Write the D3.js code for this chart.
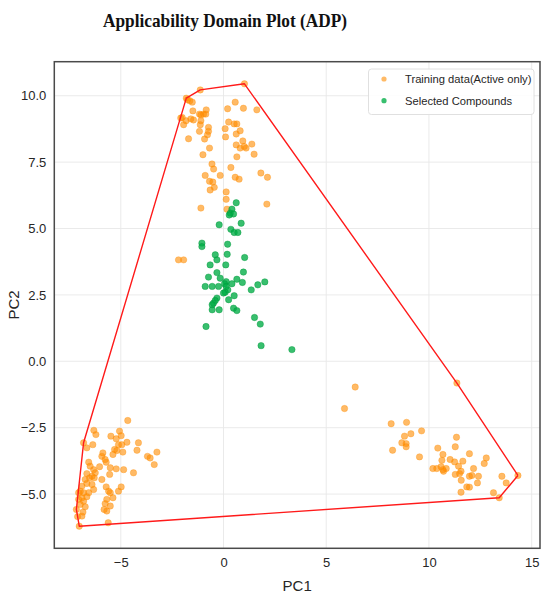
<!DOCTYPE html>
<html>
<head>
<meta charset="utf-8">
<script src="https://cdn.jsdelivr.net/npm/d3@7"></script>
<style>
  html, body { margin: 0; padding: 0; background: #ffffff; }
  svg { display: block; }
</style>
</head>
<body>
<svg id="chart" width="550" height="599"></svg>
<script>
// ---------------- DATA ----------------
const titleText = "Applicability Domain Plot (ADP)";
const xLabel = "PC1";
const yLabel = "PC2";
const seriesNames = ["Training data(Active only)", "Selected Compounds"];
const xTicks = [-5, 0, 5, 10, 15];
const yTicks = [-5, -2.5, 0, 2.5, 5, 7.5, 10];

// Training data (Active only): [PC1, PC2]
const trainingPoints = [
  // top cluster
  [-1.81, 9.91], [-1.13, 10.22], [1.02, 10.45],
  [-1.75, 9.85], [-1.64, 9.81], [-1.52, 9.76], [-1.49, 9.43], [-2.08, 9.16], [-2.01, 9.18],
  [-1.94, 8.91], [-1.82, 9.06], [-1.59, 9.13], [-1.46, 9.09], [-1.17, 9.31], [-1.10, 9.28],
  [-0.97, 9.31], [-0.84, 9.47], [-0.86, 9.31], [-1.10, 9.06], [-1.13, 8.91], [-1.17, 8.66],
  [-0.73, 8.81], [-0.73, 8.66], [-0.78, 8.53], [-0.92, 8.37], [-1.70, 8.38], [-0.68, 8.03],
  [-1.00, 7.78], [0.57, 9.76], [0.20, 9.51], [0.97, 9.53], [1.62, 9.47], [0.25, 9.01],
  [0.52, 8.94], [0.65, 8.94], [0.08, 8.76], [0.81, 8.68], [0.62, 8.56], [0.10, 8.45],
  [0.94, 8.30], [0.62, 8.15], [0.81, 8.03], [1.01, 8.09], [1.10, 8.03], [1.38, 8.18],
  [1.49, 7.80], [0.65, 7.70], [-0.56, 7.43], [-0.48, 7.24], [0.36, 7.30], [-0.89, 7.00],
  [-0.16, 7.00], [0.57, 6.93], [0.76, 6.86], [1.82, 7.09], [2.14, 6.93], [-0.68, 6.78],
  [-0.52, 6.75], [-0.45, 6.55], [-0.65, 6.45], [0.13, 6.38], [2.11, 5.92], [-1.10, 5.77],
  [0.13, 6.10], [0.17, 5.73], [-2.19, 3.82], [-1.94, 3.82],
  // middle / right cluster
  [6.41, -0.97], [5.89, -1.78], [11.36, -0.82],
  [8.16, -2.35], [8.91, -2.30], [9.12, -2.73], [9.64, -2.62], [8.81, -2.82], [8.68, -3.07],
  [8.89, -3.10], [8.89, -3.22], [8.23, -3.35], [9.54, -3.60], [11.34, -2.86], [11.28, -3.22],
  [10.43, -3.27], [10.68, -3.51], [11.97, -3.48], [12.79, -3.64], [12.69, -3.85], [10.63, -3.73],
  [11.03, -3.70], [11.25, -3.79], [11.44, -3.95], [11.65, -3.76], [10.19, -4.04], [10.38, -4.04],
  [10.59, -3.97], [10.68, -4.08], [10.84, -4.04], [10.71, -4.14], [11.56, -4.14], [11.49, -4.23],
  [12.17, -4.04], [11.28, -4.26], [11.97, -4.33], [12.09, -4.30], [12.41, -4.33], [11.57, -4.48],
  [12.36, -4.58], [13.55, -4.33], [13.76, -4.58], [11.84, -4.73], [11.97, -4.74], [11.56, -4.93],
  [13.14, -4.95], [14.33, -4.30], [13.42, -5.14],
  // bottom-left cluster
  [-4.66, -2.23], [-6.31, -2.60], [-6.21, -2.76], [-5.48, -2.82], [-5.06, -2.63], [-4.98, -2.80],
  [-5.22, -2.92], [-4.70, -3.05], [-4.14, -3.07], [-4.95, -3.14], [-5.11, -3.14], [-6.81, -3.07],
  [-6.65, -3.26], [-6.36, -3.14], [-5.30, -3.32], [-5.19, -3.36], [-5.38, -3.51], [-5.87, -3.45],
  [-5.92, -3.58], [-5.76, -3.70], [-4.90, -3.42], [-4.21, -3.35], [-3.70, -3.58], [-3.57, -3.64],
  [-3.24, -3.42], [-3.37, -3.89], [-6.56, -3.80], [-6.49, -3.95], [-6.32, -4.08], [-6.24, -4.20],
  [-6.65, -4.23], [-6.52, -4.39], [-6.40, -4.33], [-6.29, -4.39], [-6.73, -4.45], [-6.65, -4.60],
  [-6.40, -4.64], [-6.32, -4.83], [-6.03, -3.97], [-5.71, -3.80], [-5.51, -4.01], [-5.22, -4.05],
  [-4.86, -4.08], [-4.38, -4.20], [-5.54, -4.26], [-5.92, -4.45], [-6.89, -4.70], [-6.97, -4.89],
  [-7.05, -4.95], [-6.81, -4.95], [-6.56, -4.95], [-6.65, -5.10], [-6.89, -5.14], [-6.81, -5.27],
  [-6.73, -5.48], [-6.97, -5.39], [-7.05, -5.20], [-7.16, -5.58], [-7.10, -5.85], [-6.89, -5.83],
  [-6.84, -5.68], [-5.71, -4.73], [-5.59, -4.89], [-5.51, -4.95], [-5.38, -5.14], [-5.68, -5.20],
  [-5.76, -5.36], [-5.51, -5.45], [-5.68, -5.64], [-5.81, -5.58], [-5.11, -4.89], [-4.98, -4.73],
  [-7.02, -6.21], [-5.61, -6.08]
];

// Selected Compounds: [PC1, PC2]
const selectedPoints = [
  [0.62, 5.97], [0.41, 5.73], [0.33, 5.58], [0.49, 5.55], [0.28, 5.51], [-0.21, 5.14],
  [0.86, 5.20], [0.36, 4.97], [0.52, 4.85], [0.70, 4.85], [-1.05, 4.45], [-1.05, 4.32],
  [0.20, 4.41], [0.18, 4.03], [-0.40, 4.01], [-0.32, 3.82], [1.03, 3.91], [-0.65, 3.63],
  [0.11, 3.63], [-0.32, 3.34], [0.97, 3.36], [-0.73, 3.17], [-0.16, 3.13], [0.65, 3.09],
  [0.13, 3.00], [0.05, 2.92], [0.41, 2.92], [0.92, 2.97], [2.01, 2.99], [1.67, 2.88],
  [1.35, 2.69], [-0.89, 2.82], [-0.55, 2.82], [-0.24, 2.82], [0.13, 2.82], [0.21, 2.69],
  [0.08, 2.60], [0.00, 2.57], [0.52, 2.47], [-0.32, 2.38], [-0.40, 2.29], [-0.49, 2.19],
  [-0.55, 2.13], [0.25, 2.32], [-0.55, 1.94], [-0.21, 1.94], [0.49, 2.00], [0.65, 1.91],
  [-0.85, 1.31], [1.51, 1.65], [1.79, 1.40], [1.83, 0.59], [3.33, 0.44]
];

// ---------------- DRAW ----------------
const svg = d3.select("#chart");
const plot = { left: 54.3, right: 540, top: 61.7, bottom: 548.3 };

const allPts = trainingPoints.concat(selectedPoints);
function padded(ext) { const r = ext[1] - ext[0]; return [ext[0] - 0.05 * r, ext[1] + 0.05 * r]; }
const xDom = padded(d3.extent(allPts, d => d[0]));
const yDom = padded(d3.extent(allPts, d => d[1]));

const x = d3.scaleLinear().domain(xDom).range([plot.left, plot.right]);
const y = d3.scaleLinear().domain(yDom).range([plot.bottom, plot.top]);

const fmtMinus = s => s.replace("-", "\u2212");

// grid
const grid = svg.append("g");
grid.selectAll("line.gx").data(xTicks.filter(t => x(t) > plot.left && x(t) < plot.right)).join("line")
  .attr("x1", d => x(d)).attr("x2", d => x(d))
  .attr("y1", plot.top).attr("y2", plot.bottom)
  .attr("stroke", "#e8e8e8").attr("stroke-width", 0.9);
grid.selectAll("line.gy").data(yTicks).join("line")
  .attr("y1", d => y(d)).attr("y2", d => y(d))
  .attr("x1", plot.left).attr("x2", plot.right)
  .attr("stroke", "#e8e8e8").attr("stroke-width", 0.9);

// axes (labels only, via d3 axes)
const xAxis = d3.axisBottom(x).tickValues(xTicks).tickSize(0).tickPadding(9)
  .tickFormat(d => fmtMinus(d3.format("d")(d)));
const yAxis = d3.axisLeft(y).tickValues(yTicks).tickSize(0).tickPadding(8)
  .tickFormat(d => fmtMinus(d3.format(".1f")(d)));

const gx = svg.append("g").attr("transform", `translate(0,${plot.bottom})`).call(xAxis);
const gy = svg.append("g").attr("transform", `translate(${plot.left},0)`).call(yAxis);
[gx, gy].forEach(g => {
  g.select(".domain").remove();
  g.selectAll("text").attr("font-family", "Liberation Sans, Arial, sans-serif")
    .attr("font-size", 13).attr("fill", "#262626");
});

// scatter
const clipId = "plotclip";
svg.append("clipPath").attr("id", clipId).append("rect")
  .attr("x", plot.left).attr("y", plot.top)
  .attr("width", plot.right - plot.left).attr("height", plot.bottom - plot.top);

const pg = svg.append("g").attr("clip-path", `url(#${clipId})`);

pg.selectAll("circle.train").data(trainingPoints).join("circle")
  .attr("class", "train")
  .attr("cx", d => x(d[0])).attr("cy", d => y(d[1])).attr("r", 3.2)
  .attr("fill", "#ff8c00").attr("fill-opacity", 0.6)
  .attr("stroke", "#ff8c00").attr("stroke-opacity", 0.45).attr("stroke-width", 0.7);

pg.selectAll("circle.sel").data(selectedPoints).join("circle")
  .attr("class", "sel")
  .attr("cx", d => x(d[0])).attr("cy", d => y(d[1])).attr("r", 3.2)
  .attr("fill", "#00ad45").attr("fill-opacity", 0.78)
  .attr("stroke", "#00983c").attr("stroke-opacity", 0.6).attr("stroke-width", 0.7);

// convex hull of training data
const hull = d3.polygonHull(trainingPoints);
pg.append("path")
  .attr("d", d3.line().x(d => x(d[0])).y(d => y(d[1]))(hull.concat([hull[0]])))
  .attr("fill", "none").attr("stroke", "#ff1a1a").attr("stroke-width", 1.4)
  .attr("stroke-linejoin", "round");

// frame
svg.append("rect")
  .attr("x", plot.left).attr("y", plot.top)
  .attr("width", plot.right - plot.left).attr("height", plot.bottom - plot.top)
  .attr("fill", "none").attr("stroke", "#4a4a4a").attr("stroke-width", 1.5);

// legend
const lg = svg.append("g");
lg.append("rect").attr("x", 368.5).attr("y", 69).attr("width", 165.5).attr("height", 45.5)
  .attr("rx", 3).attr("fill", "#ffffff").attr("fill-opacity", 0.85)
  .attr("stroke", "#dcdcdc").attr("stroke-width", 0.9);
const legendColors = ["#ff8c00", "#00ad45"];
const legendOp = [0.6, 0.78];
seriesNames.forEach((name, i) => {
  const cy = 79 + i * 21.7;
  lg.append("circle").attr("cx", 384).attr("cy", cy).attr("r", 2.6)
    .attr("fill", legendColors[i]).attr("fill-opacity", legendOp[i]);
  lg.append("text").attr("x", 405).attr("y", cy + 4)
    .attr("font-family", "Liberation Sans, Arial, sans-serif").attr("font-size", 11.2)
    .attr("fill", "#262626").text(name);
});

// axis titles
svg.append("text").attr("x", (plot.left + plot.right) / 2).attr("y", 591)
  .attr("text-anchor", "middle").attr("font-family", "Liberation Sans, Arial, sans-serif")
  .attr("font-size", 15).attr("fill", "#262626").text(xLabel);
svg.append("text").attr("transform", `translate(19,${(plot.top + plot.bottom) / 2}) rotate(-90)`)
  .attr("text-anchor", "middle").attr("font-family", "Liberation Sans, Arial, sans-serif")
  .attr("font-size", 15).attr("fill", "#262626").text(yLabel);

// title
svg.append("text").attr("x", 225).attr("y", 27)
  .attr("text-anchor", "middle").attr("font-family", "Liberation Serif, 'Times New Roman', serif")
  .attr("font-weight", "bold").attr("font-size", 19)
  .attr("textLength", 244).attr("lengthAdjust", "spacingAndGlyphs")
  .attr("fill", "#111").text(titleText);
</script>
</body>
</html>
